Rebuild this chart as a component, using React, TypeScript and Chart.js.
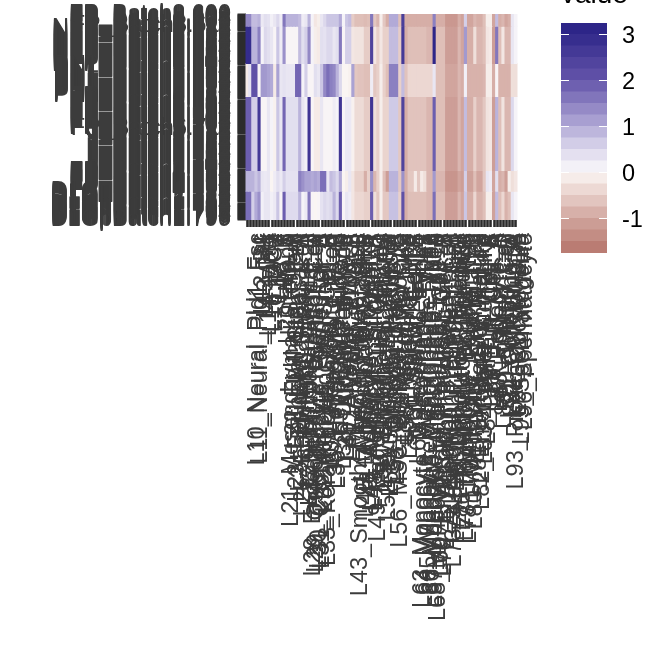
import React, { useEffect, useRef } from "react";
import { Chart, registerables } from "chart.js";

Chart.register(...registerables);

const columnNames = [
  "L10_Neural_Pld1_Fsc", "L11_Neural_Pld1_Fsc", "L12_B1", "L13_NK", "L14_Mast", "L15_DC1", "L16_DC2", "L17_M", "L18_T", "L19_B",
  "L20_Mono", "L21_Mesenchymal_Stem_A", "L22_Epithelial_Stem", "L23_Epithelial_Stem_Cell", "L24_Epidermal_Basal_A", "L25_Epidermal_Basal_Cell", "L26_Enteroendocrine_A", "L27_Fibroblast_Dermal_B", "L28_Endothelial_Progenitor_Cell", "L29_Osteoblast_Progenitor_Cell",
  "L30_Chondrocyte_Progenitor_A", "L31_Chondrocyte_Progenitor_B", "L32_Keratinocyte_Stem_A", "L33_Keratinocyte_Stem_Cell_B", "L34_Hepatocyte_Prog", "L35_Hepatocyte_Like_A", "L36_Hepatocyte_Like_B", "L37_Cholangiocyte", "L38_Ductal_Cell_Type", "L39_Alveolar_Type_II",
  "L40_Alveolar_Prog_A", "L41_Alveolar_Prog_B", "L42_Pericyte_Vasc", "L43_Smooth_Muscle_Fibroblast_II", "L44_Myofibroblast_Like", "L45_Myofibroblast_Type_B", "L46_Adipocyte_Progenitor", "L47_Adipocyte_Stromal_A", "L48_Adipocyte_Stromal_B", "L49_Endothelial_Tip_Cell_A1",
  "L50_Endothelial_Venous", "L51_Endothelial_Arterial", "L52_Lymphatic_Endothelial", "L53_Schwann_Precursor", "L54_Oligodendrocyte_A", "L55_Oligodendrocyte_B", "L56_MSC_Derived_Adipocyte", "L57_Astrocyte_Like", "L58_Microglia_Type", "L59_Ependymal_Like",
  "L60_Sertoli_Cell_A", "L61_Sertoli_Cell_B", "L62_Leydig_Cell_Like", "L63_Monocyte_Macrophage_Type1", "L64_Monocyte_Macrophage_Type2", "L65_Monocyte_Macrophage_Type", "L66_Monocyte_Macrophage_Type3", "L67_Monocyte_Macrophage_Type4", "L68_Monocyte_Macrophage_Type10", "L69_Erythroid_Precursor_Cell_A",
  "L70_Erythroid_Precursor_Cell_B", "L71_Basophil_Progenitor_Cell", "L72_Neutrophil_Progenitor_A", "L73_Neutrophil_Progenitor_Cell", "L74_Eosinophil_Progenitor_A", "L75_Dendritic_Progenitor", "L76_Plasmacytoid_Dendritic", "L77_Thymocyte_Double_Pos", "L78_Thymocyte_Double_Neg", "L79_Thymic_Epithelial_B",
  "L80_Medullary_Thymic_Cell", "L81_Enterocyte_Mature", "L82_Enterocyte_Immature", "L83_Goblet_Cell_Like", "L84_Paneth_Like_A", "L85_Tuft_Cell_B", "L86_Tuft_Cell_A", "L87_Podocyte_A", "L88_Podocyte_B", "L89_Nephron_Cell",
  "L90_Tubule_Cell", "L91_Collecting_D", "L92_Collecting_A", "L93_Proximal_Tubule_A", "L94_Oocyte_Like", "L95_Spermatogonia", "L96_Spermatocyte",
];

const bandA0 = [
  1.4,1.4,.8,.8,.9,.25,.4,.35,.15,.3, .5,.2,1.6,.9,.9,.9,.9,.8,.2,.3, .9,.1,-.2,-.1,.3,.5,.7,.7,.7,.7,
  1,.1,.7,.8,-.55,-.7,-.7,-.7,-.75,-.7, 1.6,-.6,-.8,-.1,-.6,-.9,1,1,1,-.7, 2.5,-.9,-.9,-.9,-.9,-.9,-.9,-.9,-.9,-.9,
  1.5,-.9,-.9,-.9,-1.2,-1.2,-1.2,-1.2,-.9,-1.05, .6,-1,-1,-.8,-.9,-.9,-.7,-.1,-.1,-1, .8,-.9,-.8,-1,-.9,.3,.1,
];
const bandA = [
  2.9,2.9,.9,.9,1.5,.1,.5,.4,.3,.05, .7,.2,1.3,.05,.05,.05,.05,.8,.4,.6, 1.4,.1,-.1,-.15,.4,.35,.5,.5,.3,.4,
  1.6,.05,.6,.6,-.2,-.25,-.25,-.25,-.55,-.55, 2.4,-.2,-.5,-.2,-.5,-.5,.8,.8,.8,-.55, 2.6,-.9,-.7,-.7,-.7,-.7,-.7,-.7,-.8,-.8,
  3.1,-.7,-.7,-.7,-1.1,-1.1,-1.1,-1.1,-.8,-1, 1.2,-.9,-.9,-.3,-.8,-.8,-.7,-.2,-.15,-1.1, 1.6,-.7,-.2,-.8,-.8,.3,.1,
];
const bandB = [
  -.15,.35,2.1,2.1,.05,1.2,1.2,1.1,1,-.15, 1.1,.3,.35,.3,.3,.3,1.8,1.8,.1,.6, .05,.05,.4,.3,.7,1.4,1.7,1.5,1.4,.9,
  .5,0,0,-.05,1.1,-.6,-.65,-.65,-.7,-.7, .2,-.6,-.5,-.1,-.5,-.7,1.5,1.5,1.5,-.5, .8,-.65,-.4,-.4,-.4,-.4,-.4,-.4,-.4,-.4,
  .3,-.7,-.7,-.7,-1,-1,-1,-1,-.8,-.9, .15,-.85,-.85,-.85,-.85,-.85,-.8,-.1,-.1,-.9, .05,-.85,-.85,-.85,-.85,-.3,-.3,
];
const bandC = [
  1.9,1.9,.6,.6,2.6,.05,.05,.3,.1,-.05, .7,.3,1.8,.4,.4,.4,.4,.9,.3,.15, 2.7,.05,-.15,-.15,.3,.05,.05,.05,.2,.1,
  2.7,.05,.25,.25,-.05,-.35,-.35,-.35,-.55,-.55, 2.7,-.3,-.5,-.1,-.45,-.45,.65,.65,.65,-.6, 2.4,-.9,-.65,-.65,-.65,-.65,-.65,-.65,-.8,-.8,
  1.9,-.7,-.7,-.7,-1.1,-1.1,-1.1,-1.1,-.8,-1, .8,-.9,-.9,-.5,-.8,-.8,-.6,-.25,-.2,-1.1, .9,-.7,-.25,-.8,-.8,.5,.1,
];
const bandD = [
  .9,.9,.9,.7,.9,.3,.25,.3,0,.2, .4,.25,.6,.35,.35,.35,.35,1.5,1.3,1.1, 1.1,1,1.1,1,1.7,1.7,.3,.8,.7,.5,
  1,0,-.1,.3,-.2,-.5,-.5,-.5,-.9,-.5, 1.3,-.8,-.5,-.1,-.7,-1.1,.9,.9,.9,-.6, 1.3,-.9,-.6,-.6,-.15,-.6,-.15,-.3,-.8,-.8,
  1.2,-.8,-.8,-.8,-1.25,-1.25,-1.25,-1.25,-1,-1.1, .6,-1.05,-1.05,-.7,-1,-1,-.6,.3,.2,-1, .4,-.9,-.8,-1.1,-.1,-.3,-.2,
];
const bandE = [
  1.7,1.7,.6,1,1.3,.15,.3,.3,.15,.25, .7,.05,1.9,.45,.45,.45,.45,.9,.1,.25, 1.6,.05,0,.05,.35,.5,.4,.5,.9,.5,
  1.9,.05,.3,.2,-.2,-.4,-.4,-.4,-.5,-.5, 1.9,-.3,-.6,-.1,-.6,-.6,.75,.75,.75,-.5, 2.1,-.9,-.7,-.7,-.7,-.7,-.7,-.7,-.8,-.8,
  1.7,-.7,-.7,-.7,-1.1,-1.1,-1.1,-1.1,-.8,-1, .7,-.9,-.9,-.4,-.85,-.85,-.7,-.1,-.1,-1.05, .8,-.7,-.4,-.85,-.7,.3,.1,
];

const bandValues = [bandA0, bandA, bandB, bandC, bandD, bandE];
const bandRowCounts = [12, 36, 32, 72, 20, 28];

// [label prefix, batch number, number of rows]
const rowLabelRuns: [string, number, number][] = [
  ["FP_", 8, 14],
  ["NFP_", 8, 36],
  ["PN1_", 5, 30],
  ["FP_", 6, 32],
  ["J_", 3, 40],
  ["FP_", 4, 20],
  ["D1Gp", 1, 28],
];

const legendTicks = [3, 2, 1, 0, -1];
const legendBinEdges = [
  -1.75, -1.5, -1.25, -1, -0.75, -0.5, -0.25, 0, 0.25, 0.5, 0.75, 1, 1.25, 1.5, 1.75, 2, 2.25, 2.5, 2.75, 3, 3.25,
];

const colorStops: [number, number, number, number][] = [
  [-1.75, 181, 116, 106],
  [-1, 209, 165, 158],
  [-0.5, 232, 208, 202],
  [0, 250, 245, 243],
  [0.1, 245, 243, 248],
  [0.5, 220, 216, 236],
  [1, 178, 170, 215],
  [2, 100, 85, 170],
  [3, 48, 40, 138],
  [3.25, 42, 34, 134],
];

function colorOf(v: number): string {
  let i = 0;
  while (i < colorStops.length - 2 && v > colorStops[i + 1][0]) i++;
  const a = colorStops[i];
  const b = colorStops[i + 1];
  const t = Math.max(0, Math.min(1, (v - a[0]) / (b[0] - a[0])));
  const m = (k: number) => Math.round(a[k] + (b[k] - a[k]) * t);
  return `rgb(${m(1)},${m(2)},${m(3)})`;
}

const rowLabels: string[] = [];
rowLabelRuns.forEach(([prefix, batch, n]) => {
  for (let i = 0; i < n; i++) rowLabels.push(`${prefix}Batch${batch}.${600 + rowLabels.length}`);
});

const FONT = "'Liberation Sans', Arial, sans-serif";
const TEXT = "#3c3c3c";
const TICK = "#2c2c2c";

export default function App() {
  const mainRef = useRef<HTMLCanvasElement>(null);
  const legendRef = useRef<HTMLCanvasElement>(null);

  useEffect(() => {
    let start = 0;
    const datasets = bandValues.map((vals, b) => {
      const from = start;
      const to = start + bandRowCounts[b];
      start = to;
      return {
        yAxisID: "cells",
        data: vals.map((): [number, number] => [from, to]),
        backgroundColor: vals.map(colorOf),
        borderWidth: 0,
        inflateAmount: 0.5,
        grouped: false,
        barPercentage: 1,
        categoryPercentage: 1,
      };
    });

    const main = new Chart(mainRef.current!, {
      type: "bar",
      data: { labels: columnNames, datasets: datasets as any },
      options: {
        animation: false,
        responsive: false,
        layout: { padding: { top: 14, right: 154.5, left: 0, bottom: 0 } },
        plugins: { legend: { display: false }, title: { display: false }, tooltip: { enabled: false } },
        scales: {
          x: {
            type: "category",
            offset: true,
            border: { display: false },
            grid: { offset: false, drawOnChartArea: false, tickLength: 7, tickWidth: 2.6, tickColor: TICK },
            ticks: {
              autoSkip: false,
              minRotation: 90,
              maxRotation: 90,
              padding: 6,
              labelOffset: 10,
              color: TEXT,
              font: { family: FONT, size: 23.5 },
            },
            afterFit: (s: any) => {
              s.height = 452;
              s.paddingLeft = 0;
              s.paddingRight = 0;
            },
          },
          y: {
            type: "category",
            labels: rowLabels,
            offset: true,
            border: { display: false },
            grid: { offset: false, drawOnChartArea: false, tickLength: 8, tickWidth: 2, tickColor: TICK },
            ticks: {
              autoSkip: false,
              padding: 6.5,
              color: TEXT,
              font: { family: FONT, size: 23.5 },
            },
            afterFit: (s: any) => {
              s.width = 245.5;
              s.paddingTop = 0;
              s.paddingBottom = 0;
            },
          },
          cells: { type: "linear", display: false, min: 0, max: 200, reverse: true },
        },
      } as any,
    });

    const legend = new Chart(legendRef.current!, {
      type: "bar",
      data: {
        labels: ["value"],
        datasets: legendBinEdges.slice(0, -1).map((lo, i) => {
          const hi = legendBinEdges[i + 1];
          return {
            data: [[lo, hi] as [number, number]],
            backgroundColor: colorOf((lo + hi) / 2),
            borderWidth: 0,
            inflateAmount: 0.5,
            grouped: false,
            barPercentage: 1,
            categoryPercentage: 1,
          };
        }) as any,
      },
      options: {
        animation: false,
        responsive: false,
        layout: { padding: { top: 0, right: 0, left: 561, bottom: 419 } },
        plugins: {
          legend: { display: false },
          tooltip: { enabled: false },
          title: {
            display: true,
            text: "value",
            align: "start",
            color: "#000000",
            font: { family: FONT, size: 28, weight: "normal" },
            padding: { top: 0, bottom: 11.4 },
          },
        },
        scales: {
          x: { display: false, offset: true },
          y: {
            position: "right",
            min: -1.75,
            max: 3.25,
            afterBuildTicks: (s: any) => {
              s.ticks = legendTicks.map((value) => ({ value }));
            },
            border: { display: false, dash: [8, 30] },
            grid: { z: 1, color: "#ffffff", lineWidth: 1, drawTicks: false },
            ticks: {
              padding: 15,
              labelOffset: 2,
              color: "#000000",
              font: { family: FONT, size: 23.5 },
              callback: (v: any) => String(v),
            },
            afterFit: (s: any) => {
              s.width = 65;
              s.paddingTop = 0;
              s.paddingBottom = 0;
            },
          },
        },
      } as any,
    });

    return () => {
      main.destroy();
      legend.destroy();
    };
  }, []);

  return (
    <div style={{ position: "absolute", left: 0, top: 0, width: 672, height: 672, overflow: "hidden", background: "#fff" }}>
      <canvas ref={mainRef} width={672} height={672} style={{ position: "absolute", left: 0, top: 0, display: "block" }} />
      <canvas ref={legendRef} width={672} height={694} style={{ position: "absolute", left: 0, top: -22, display: "block" }} />
    </div>
  );
}
